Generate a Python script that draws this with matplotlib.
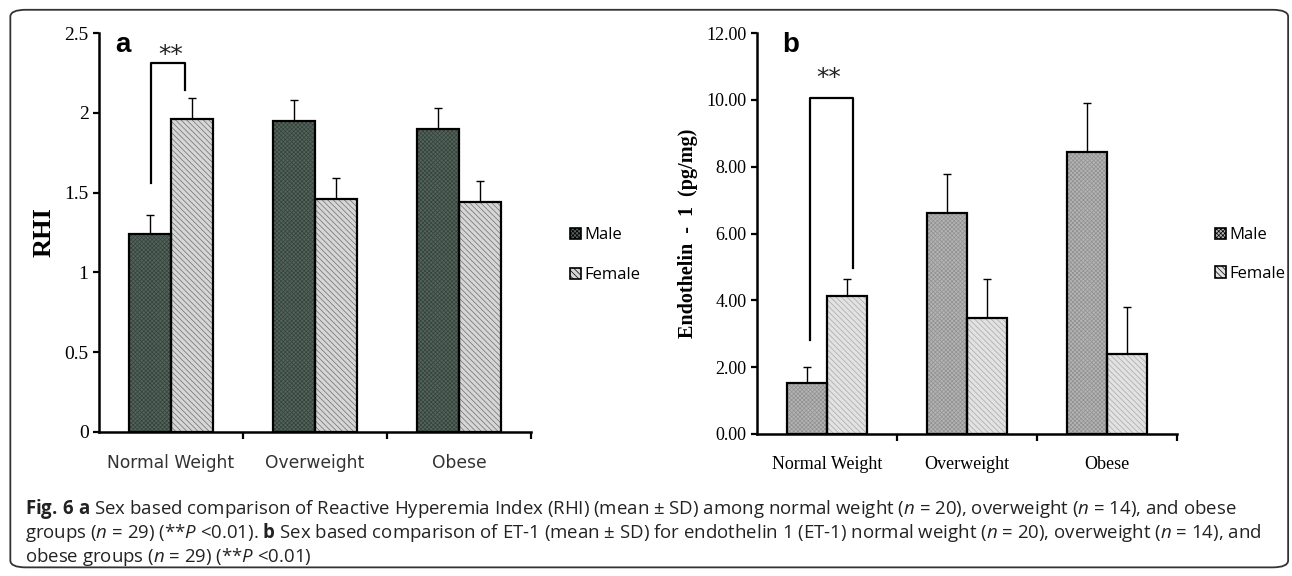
import numpy as np
import matplotlib
matplotlib.use("Agg")
import matplotlib.pyplot as plt
from matplotlib.patches import Patch, FancyBboxPatch

plt.rcParams['mathtext.fontset'] = 'custom'
plt.rcParams['mathtext.rm'] = 'Open Sans'
plt.rcParams['mathtext.it'] = 'Open Sans:italic'
plt.rcParams['mathtext.bf'] = 'Open Sans:bold'
plt.rcParams['hatch.linewidth'] = 0.5

groups = ["Normal Weight", "Overweight", "Obese"]
series = ["Male", "Female"]

rhi_male = [1.24, 1.95, 1.90]
rhi_male_sd = [0.12, 0.13, 0.13]
rhi_female = [1.96, 1.46, 1.44]
rhi_female_sd = [0.13, 0.13, 0.13]

et_male = [1.53, 6.60, 8.45]
et_male_sd = [0.47, 1.18, 1.46]
et_female = [4.13, 3.47, 2.40]
et_female_sd = [0.51, 1.17, 1.40]

rhi_ticks = [0, 0.5, 1, 1.5, 2, 2.5]
rhi_ticklabels = ["0", "0.5", "1", "1.5", "2", "2.5"]
et_ticks = [0, 2, 4, 6, 8, 10, 12]
et_ticklabels = ["0.00", "2.00", "4.00", "6.00", "8.00", "10.00", "12.00"]

serif = "Liberation Serif"
fig = plt.figure(figsize=(12.92, 5.76), dpi=100)

# outer rounded frame
frame = FancyBboxPatch((0.008, 0.015), 0.989, 0.968, boxstyle="round,pad=0,rounding_size=0.012",
                       transform=fig.transFigure, fill=False, edgecolor="#333333", linewidth=1.3)
fig.patches.append(frame)


def draw_panel(ax, male, male_sd, female, female_sd, styles, width):
    x = np.arange(len(groups))
    for vals, sd, off, st in [(male, male_sd, -width / 2, styles[0]), (female, female_sd, width / 2, styles[1])]:
        ax.bar(x + off, vals, width, color=st[0], hatch=st[1], edgecolor=st[2], linewidth=0, zorder=2)
        ax.bar(x + off, vals, width, fill=False, edgecolor="black", linewidth=1.6, zorder=3)
        ax.errorbar(x + off, vals, yerr=[np.zeros(len(vals)), sd], fmt="none", ecolor="black",
                    elinewidth=1.0, capsize=3, capthick=1.0, zorder=1)
    ax.set_xlim(-0.5, 2.5)
    ax.set_xticks([0.5, 1.5, 2.5])
    ax.set_xticklabels([])
    ax.tick_params(axis="x", length=5, width=1.6, direction="out")
    ax.tick_params(axis="y", length=4, width=1.6, direction="out")
    for s in ["top", "right"]:
        ax.spines[s].set_visible(False)
    for s in ["left", "bottom"]:
        ax.spines[s].set_linewidth(1.8)
    for i, g in enumerate(groups):
        ax.annotate(g, (i, 0), xycoords=("data", "axes fraction"), xytext=(0, -16),
                    textcoords="offset points", ha="center", va="top")
    return x


# panel a
ax1 = fig.add_axes([99 / 1292, 1 - 432 / 576, 432 / 1292, 399 / 576])
sty_a = [("#53645b", "xxxxxxxx", "#34423b"), ("#d6d6d6", "\\\\\\\\\\\\", "#6e6e6e")]
draw_panel(ax1, rhi_male, rhi_male_sd, rhi_female, rhi_female_sd, sty_a, 0.29)
for t in ax1.texts:
    t.set_fontfamily("DejaVu Sans")
    t.set_fontsize(12.3)
    t.set_color("#333333")
ax1.set_ylim(0, 2.5)
ax1.set_yticks(rhi_ticks)
ax1.set_yticklabels(rhi_ticklabels, fontfamily=serif, fontsize=14)
ax1.set_ylabel("RHI", fontfamily=serif, fontsize=19, fontweight="bold", labelpad=6)
ax1.plot([-0.14, -0.14, 0.1, 0.1], [1.56, 2.31, 2.31, 2.14], color="black", lw=1.6)
ax1.text(0.0, 2.36, "**", ha="center", va="center", fontsize=18, fontfamily="DejaVu Sans", color="#222222")
fig.text(115 / 1292, 1 - 45 / 576, "a", fontsize=20, fontweight="bold", va="center", ha="left",
         fontfamily="Liberation Sans")
leg_a = [Patch(facecolor=s[0], hatch=s[1], edgecolor="black", linewidth=1.2) for s in sty_a]
fig.legend(leg_a, series, loc="upper left", bbox_to_anchor=(562 / 1292, 1 - 219 / 576),
           frameon=False, borderpad=0, handlelength=0.65, handleheight=0.65, handletextpad=0.2,
           labelspacing=1.45, prop={"family": "Open Sans", "size": 12})

# panel b
ax2 = fig.add_axes([757 / 1292, 1 - 434 / 576, 420 / 1292, 401 / 576])
sty_b = [("#b4b4b4", "xxxxxxxx", "#909090"), ("#e2e2e2", "\\\\\\\\\\\\", "#a8a8a8")]
draw_panel(ax2, et_male, et_male_sd, et_female, et_female_sd, sty_b, 0.286)
for t in ax2.texts:
    t.set_fontfamily(serif)
    t.set_fontsize(13)
ax2.set_ylim(0, 12)
ax2.set_yticks(et_ticks)
ax2.set_yticklabels(et_ticklabels, fontfamily=serif, fontsize=13)
ax2.set_ylabel("Endothelin  -  1  (pg/mg)", fontfamily=serif, fontsize=14.5, fontweight="bold", labelpad=6)
ax2.plot([-0.12, -0.12, 0.185, 0.185], [2.81, 10.06, 10.06, 4.97], color="black", lw=1.6)
ax2.text(0.01, 10.65, "**", ha="center", va="center", fontsize=18, fontfamily="DejaVu Sans", color="#222222")
fig.text(782 / 1292, 1 - 45 / 576, "b", fontsize=20, fontweight="bold", va="center", ha="left",
         fontfamily="Liberation Sans")
leg_b = [Patch(facecolor=s[0], hatch=s[1], edgecolor="black", linewidth=1.2) for s in sty_b]
fig.legend(leg_b, series, loc="upper left", bbox_to_anchor=(1207 / 1292, 1 - 219 / 576),
           frameon=False, borderpad=0, handlelength=0.65, handleheight=0.65, handletextpad=0.2,
           labelspacing=1.35, prop={"family": "Open Sans", "size": 12})

# caption
caption = [
    r"$\mathbf{Fig.\,6}$ $\mathbf{a}$ Sex based comparison of Reactive Hyperemia Index (RHI) (mean ± SD) among normal weight ($n$ = 20), overweight ($n$ = 14), and obese",
    r"groups ($n$ = 29) (**$P$ <0.01). $\mathbf{b}$ Sex based comparison of ET-1 (mean ± SD) for endothelin 1 (ET-1) normal weight ($n$ = 20), overweight ($n$ = 14), and",
    r"obese groups ($n$ = 29) (**$P$ <0.01)",
]
for i, line in enumerate(caption):
    fig.text(25 / 1292, 1 - (509 + 24 * i) / 576, line, fontfamily="Open Sans", fontsize=13.4,
             color="#222222", va="center", ha="left")

fig.savefig("out.png", dpi=100)
